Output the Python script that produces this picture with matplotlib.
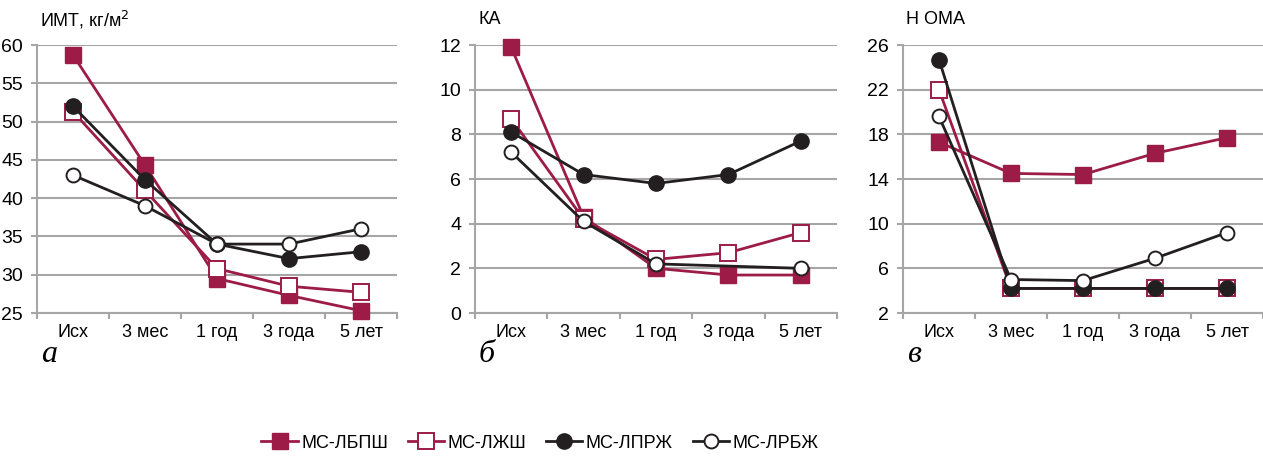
import matplotlib
matplotlib.use("Agg")
import matplotlib.pyplot as plt
from matplotlib.lines import Line2D

plt.rcParams['font.family'] = ['Liberation Sans', 'DejaVu Sans']

categories = ["Исх", "3 мес", "1 год", "3 года", "5 лет"]
series_names = ["МС-ЛБПШ", "МС-ЛЖШ", "МС-ЛПРЖ", "МС-ЛРБЖ"]

imt_lbpsh = [58.7, 44.3, 29.5, 27.3, 25.3]
imt_lzhsh = [51.3, 41.0, 30.8, 28.5, 27.7]
imt_lprzh = [52.0, 42.4, 34.0, 32.1, 33.0]
imt_lrbzh = [43.0, 39.0, 34.0, 34.0, 36.0]

ka_lbpsh = [11.9, 4.3, 2.0, 1.7, 1.7]
ka_lzhsh = [8.7, 4.2, 2.4, 2.7, 3.6]
ka_lprzh = [8.1, 6.2, 5.8, 6.2, 7.7]
ka_lrbzh = [7.2, 4.1, 2.2, 2.1, 2.0]

homa_lbpsh = [17.3, 14.5, 14.4, 16.3, 17.7]
homa_lzhsh = [22.0, 4.2, 4.2, 4.2, 4.2]
homa_lprzh = [24.7, 4.2, 4.2, 4.2, 4.2]
homa_lrbzh = [19.6, 5.0, 4.9, 6.9, 9.2]

red = "#9c1b47"
blk = "#231f20"
grid_c = "#a6a6a6"

styles = [
    dict(color=red, marker="s", markersize=11, markerfacecolor=red, markeredgecolor=red),
    dict(color=red, marker="s", markersize=11, markerfacecolor="white", markeredgecolor=red, markeredgewidth=1.4),
    dict(color=blk, marker="o", markersize=11, markerfacecolor=blk, markeredgecolor=blk),
    dict(color=blk, marker="o", markersize=10, markerfacecolor="white", markeredgecolor=blk, markeredgewidth=1.4),
]

panels = [
    ("ИМТ, кг/м$^2$", [imt_lbpsh, imt_lzhsh, imt_lprzh, imt_lrbzh], (25, 60), 5, [None, None, None, None]),
    ("КА", [ka_lbpsh, ka_lzhsh, ka_lprzh, ka_lrbzh], (0, 12), 2, [None, None, None, [0, 1, 2, 4]]),
    ("H OMA", [homa_lbpsh, homa_lzhsh, homa_lprzh, homa_lrbzh], (2, 26), 4, [None, None, None, None]),
]

lefts = [37, 475, 903]
widths = [360, 362, 360]
letters = ["а", "б", "в"]
W, H = 1263, 459

fig = plt.figure(figsize=(W / 100, H / 100), dpi=100)
x = list(range(len(categories)))

for (title, data, ylim, step, marks), left, width, letter in zip(panels, lefts, widths, letters):
    ax = fig.add_axes([left / W, 1 - 313 / H, width / W, (313 - 45) / H])
    for vals, st, me in zip(data, styles, marks):
        ax.plot(x, vals, linewidth=2, markevery=me, clip_on=False, zorder=3, **st)
    ax.set_xlim(-0.5, 4.5)
    ax.set_ylim(*ylim)
    ax.set_yticks(range(ylim[0], ylim[1] + 1, step))
    ax.yaxis.grid(True, color=grid_c, linewidth=1.5)
    ax.set_axisbelow(True)
    ax.set_xticks([i + 0.5 for i in range(-1, 5)])
    ax.set_xticklabels([])
    ax.set_xticks(x, minor=True)
    ax.set_xticklabels(categories, minor=True, fontsize=13)
    ax.tick_params(axis="x", which="minor", length=0, pad=8)
    ax.tick_params(axis="x", which="major", length=4, color=grid_c, width=1.5)
    ax.tick_params(axis="y", length=4, color=grid_c, width=1.5, labelsize=14, pad=6)
    for s in ["top", "right"]:
        ax.spines[s].set_visible(False)
    for s in ["left", "bottom"]:
        ax.spines[s].set_color(grid_c)
        ax.spines[s].set_linewidth(1.5)
    fig.text((left + 3) / W, 1 - 20 / H, title, fontsize=13, va="center", ha="left")
    fig.text((left + 4) / W, 1 - 354 / H, letter, fontsize=23, style="italic",
             family="Liberation Serif", va="center", ha="left")

handles = [Line2D([0], [0], linewidth=2, **st) for st in styles]
fig.legend(handles, series_names, loc="center", bbox_to_anchor=(540 / W, 1 - 443 / H),
           ncol=4, frameon=False, fontsize=13, handlelength=2.0, columnspacing=1.1,
           handletextpad=0.2)

fig.savefig("out.png", dpi=100)
